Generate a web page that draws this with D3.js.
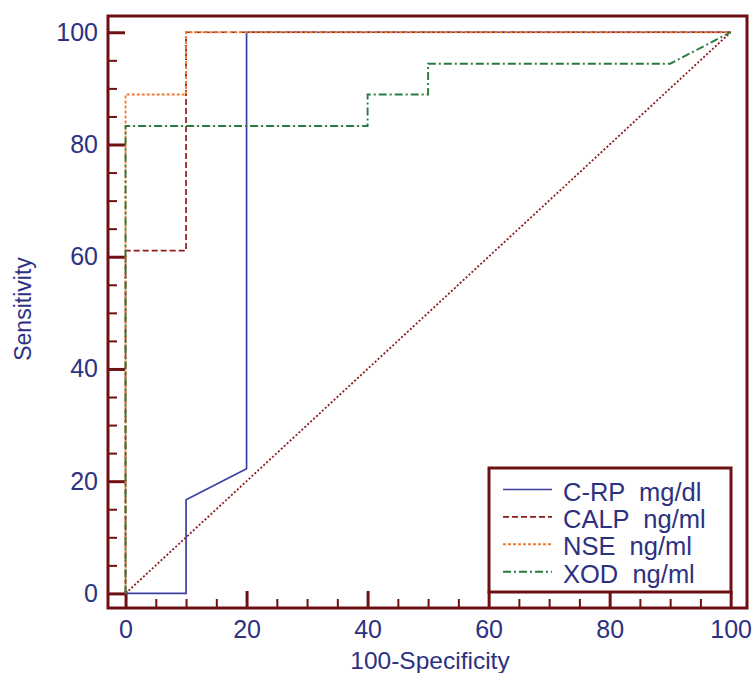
<!DOCTYPE html>
<html>
<head>
<meta charset="utf-8">
<script src="https://cdn.jsdelivr.net/npm/d3@7"></script>
<style>
  body { margin: 0; background: #fff; }
  text { font-family: "Liberation Sans", Arial, sans-serif; fill: #2d3181; }
</style>
</head>
<body>
<div id="chart"></div>
<script>
// Canvas size
var svgWidth = 756;
var svgHeight = 673;

// Data: ROC curves (100-Specificity, Sensitivity)
var seriesNames = ["C-RP  mg/dl", "CALP  ng/ml", "NSE  ng/ml", "XOD  ng/ml"];
var crpX  = [0, 10, 10, 20, 20, 100];
var crpY  = [0, 0, 16.7, 22.2, 100, 100];
var calpX = [0, 0, 10, 10, 100];
var calpY = [0, 61.1, 61.1, 100, 100];
var nseX  = [0, 0, 10, 10, 100];
var nseY  = [0, 88.9, 88.9, 100, 100];
var xodX  = [0, 0, 40, 40, 50, 50, 90, 100];
var xodY  = [0, 83.3, 83.3, 88.9, 88.9, 94.4, 94.4, 100];
var refX  = [0, 100];
var refY  = [0, 100];
var majorTicks = [0, 20, 40, 60, 80, 100];
var minorTicks = [5, 10, 15, 25, 30, 35, 45, 50, 55, 65, 70, 75, 85, 90, 95];

// Styles
var frameColor = "#6e1012";
var styles = [
    { color: "#3c41a0", dash: null,        width: 1.7 },
    { color: "#8b1c1c", dash: "6,3",       width: 1.7 },
    { color: "#f07c33", dash: "3,2",       width: 1.9 },
    { color: "#2b7a3c", dash: "8,3,2,3",   width: 1.9 }
];

var svg = d3.select("#chart").append("svg")
    .attr("width", svgWidth).attr("height", svgHeight);

// Scales (plot frame runs 108..747 horizontally, 16..608 vertically)
var x = d3.scaleLinear().domain([-2.9, 102.7]).range([108, 747]);
var y = d3.scaleLinear().domain([-2.6, 102.9]).range([608, 16]);

// Axes - ticks point inward
var xAxis = svg.append("g").attr("transform", "translate(0,608)");
xAxis.call(d3.axisBottom(x).tickValues(majorTicks).tickSizeInner(-17).tickSizeOuter(0).tickPadding(12));
var xMinor = svg.append("g").attr("transform", "translate(0,608)");
xMinor.call(d3.axisBottom(x).tickValues(minorTicks).tickSizeInner(-9).tickSizeOuter(0).tickFormat(""));

var yAxis = svg.append("g").attr("transform", "translate(108,0)");
yAxis.call(d3.axisLeft(y).tickValues(majorTicks).tickSizeInner(-17).tickSizeOuter(0).tickPadding(10));
var yMinor = svg.append("g").attr("transform", "translate(108,0)");
yMinor.call(d3.axisLeft(y).tickValues(minorTicks).tickSizeInner(-9).tickSizeOuter(0).tickFormat(""));

svg.selectAll(".domain").remove();
xAxis.selectAll("line").attr("stroke", frameColor).attr("stroke-width", 3);
yAxis.selectAll("line").attr("stroke", frameColor).attr("stroke-width", 3);
xMinor.selectAll("line").attr("stroke", frameColor).attr("stroke-width", 2);
yMinor.selectAll("line").attr("stroke", frameColor).attr("stroke-width", 2);
svg.selectAll(".tick text")
    .attr("fill", "#2d3181")
    .style("font-size", "25px")
    .style("font-family", "'Liberation Sans', Arial, sans-serif");

// Frame
svg.append("rect")
    .attr("x", x.range()[0]).attr("y", y.range()[1])
    .attr("width", x.range()[1] - x.range()[0])
    .attr("height", y.range()[0] - y.range()[1])
    .attr("fill", "none")
    .attr("stroke", frameColor)
    .attr("stroke-width", 3);

// Axis titles
svg.append("text")
    .attr("x", 430).attr("y", 669)
    .attr("text-anchor", "middle")
    .style("font-size", "24.5px")
    .text("100-Specificity");

svg.append("text")
    .attr("transform", "translate(31,309) rotate(-90)")
    .attr("text-anchor", "middle")
    .style("font-size", "23px")
    .text("Sensitivity");

// Lines
var line = d3.line()
    .x(function(d) { return x(d[0]); })
    .y(function(d) { return y(d[1]); });

function pairs(xs, ys) {
    return xs.map(function(v, i) { return [v, ys[i]]; });
}

// reference diagonal
svg.append("path")
    .attr("d", line(pairs(refX, refY)))
    .attr("fill", "none")
    .attr("stroke", "#8b1c1c")
    .attr("stroke-width", 1.8)
    .attr("stroke-dasharray", "2,2");

var curves = [pairs(crpX, crpY), pairs(calpX, calpY), pairs(nseX, nseY), pairs(xodX, xodY)];
curves.forEach(function(c, i) {
    svg.append("path")
        .attr("d", line(c))
        .attr("fill", "none")
        .attr("stroke", styles[i].color)
        .attr("stroke-width", styles[i].width)
        .attr("stroke-dasharray", styles[i].dash);
});

// Legend
var legend = svg.append("g");
legend.append("rect")
    .attr("x", 489).attr("y", 468)
    .attr("width", 242).attr("height", 124)
    .attr("fill", "#fff")
    .attr("stroke", frameColor)
    .attr("stroke-width", 3);

seriesNames.forEach(function(name, i) {
    var cy = 489.5 + i * 27.4;
    legend.append("line")
        .attr("x1", 503).attr("x2", 552)
        .attr("y1", cy).attr("y2", cy)
        .attr("stroke", styles[i].color)
        .attr("stroke-width", styles[i].width)
        .attr("stroke-dasharray", styles[i].dash);
    legend.append("text")
        .attr("x", 563).attr("y", cy + 6)
        .attr("dy", "0.2em")
        .style("font-size", "25.5px")
        .style("white-space", "pre")
        .text(name);
});
</script>
</body>
</html>
